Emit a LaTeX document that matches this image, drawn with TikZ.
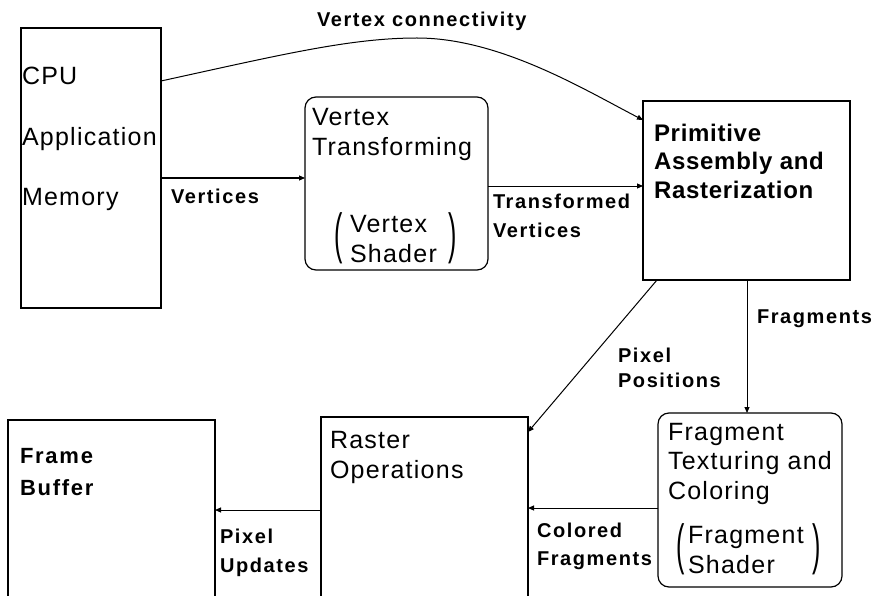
\documentclass[tikz,border=0pt]{standalone}
\usepackage{fontspec}
\setmainfont{Liberation Sans}
\newfontfamily\boxfont[LetterSpace=5]{Liberation Sans}
\newfontfamily\boldboxfont[LetterSpace=3]{Liberation Sans}
\newfontfamily\lblfont[LetterSpace=8]{Liberation Sans}
\usetikzlibrary{arrows.meta}

\begin{document}
\begin{tikzpicture}[x=1pt,y=-1pt,
  box/.style={draw, line width=1.2pt, rectangle, inner sep=0pt, outer sep=0pt},
  rbox/.style={box, rounded corners=11pt},
  % multi-line texts are placed by the baseline of their last line
  boxtext/.style={anchor=base west, inner sep=0pt, outer sep=0pt, align=left,
    font=\boxfont\fontsize{25}{29.5}\selectfont},
  boldtext/.style={boxtext, font=\boldboxfont\bfseries\fontsize{24}{28.5}\selectfont},
  lbl/.style={anchor=base west, inner sep=0pt, outer sep=0pt, align=left,
    font=\lblfont\bfseries\fontsize{20}{29}\selectfont},
  paren/.style={inner sep=0pt, outer sep=0pt, font=\fontsize{25}{25}\selectfont},
  arr/.style={-{Triangle[length=6pt,width=5pt]}, line width=1pt},
]
\useasboundingbox (0,0) rectangle (877,596);
\fill[white] (0,0) rectangle (877,596);
\clip (0,0) rectangle (877,596);

% pipeline stages
\node[box,  minimum width=140pt, minimum height=280pt] (cpu) at (91,168) {};
\node[rbox, minimum width=183pt, minimum height=173pt] (vt)  at (396.5,183.5) {};
\node[box,  minimum width=207pt, minimum height=179pt] (pa)  at (746.5,190.5) {};
\node[rbox, minimum width=184pt, minimum height=174pt] (ft)  at (750,500) {};
\node[box,  minimum width=207pt, minimum height=203pt] (ro)  at (424.5,518.5) {};
\node[box,  minimum width=207pt, minimum height=200pt] (fb)  at (111.5,520) {};

% stage texts
\node[boxtext, font=\boxfont\fontsize{25}{60}\selectfont] (cputxt) at (22,205) {CPU\\Application\\Memory};
\node[boxtext] (vttxt) at (312,155.5) {Vertex\\Transforming};
\node[boxtext, font=\boxfont\fontsize{25}{30}\selectfont] (vstxt) at (350,262) {Vertex\\Shader};
\node[paren] (vsl) at (339,238) {\scalebox{1}[2.2]{(}};
\node[paren] (vsr) at (453,238) {\scalebox{1}[2.2]{)}};
\node[boldtext] (patxt) at (654,198) {Primitive\\Assembly and\\Rasterization};
\node[boxtext] (fttxt) at (668,499) {Fragment\\Texturing and\\Coloring};
\node[boxtext, font=\boxfont\fontsize{25}{30}\selectfont] (fstxt) at (688,573) {Fragment\\Shader};
\node[paren] (fsl) at (681,549) {\scalebox{1}[2.2]{(}};
\node[paren] (fsr) at (817,549) {\scalebox{1}[2.2]{)}};
\node[boxtext, font=\boxfont\fontsize{25}{30}\selectfont] (rotxt) at (330,478) {Raster\\Operations};
\node[boldtext, font=\lblfont\bfseries\fontsize{22}{32}\selectfont] (fbtxt) at (20,495) {Frame\\Buffer};

% connectors
\draw[arr] (cpu.east |- 0,81) .. controls (280,55) and (350,38) .. (417,38)
  .. controls (500,38) and (585,90) .. (pa.west |- 0,120);
\draw[arr] (cpu.east |- 0,178) -- (vt.west |- 0,178);
\draw[arr] (vt.east |- 0,186) -- (pa.west |- 0,186);
\draw[arr] (pa.south -| 657,0) -- (ro.east |- 0,432);
\draw[arr] (pa.south -| 747,0) -- (ft.north -| 747,0);
\draw[arr] (ft.west |- 0,508) -- (ro.east |- 0,508);
\draw[arr] (ro.west |- 0,510) -- (fb.east |- 0,510);

% connector labels
\node[lbl] (l1) at (317,27) {Vertex connectivity};
\node[lbl] (l2) at (171,203) {Vertices};
\node[lbl] (l3) at (493,237) {Transformed\\Vertices};
\node[lbl] (l4) at (757,323) {Fragments};
\node[lbl, font=\lblfont\bfseries\fontsize{20}{25}\selectfont] (l5) at (618,387) {Pixel\\Positions};
\node[lbl, font=\lblfont\bfseries\fontsize{20}{28}\selectfont] (l6) at (537,565) {Colored\\Fragments};
\node[lbl] (l7) at (220,572) {Pixel\\Updates};
\end{tikzpicture}
\end{document}
